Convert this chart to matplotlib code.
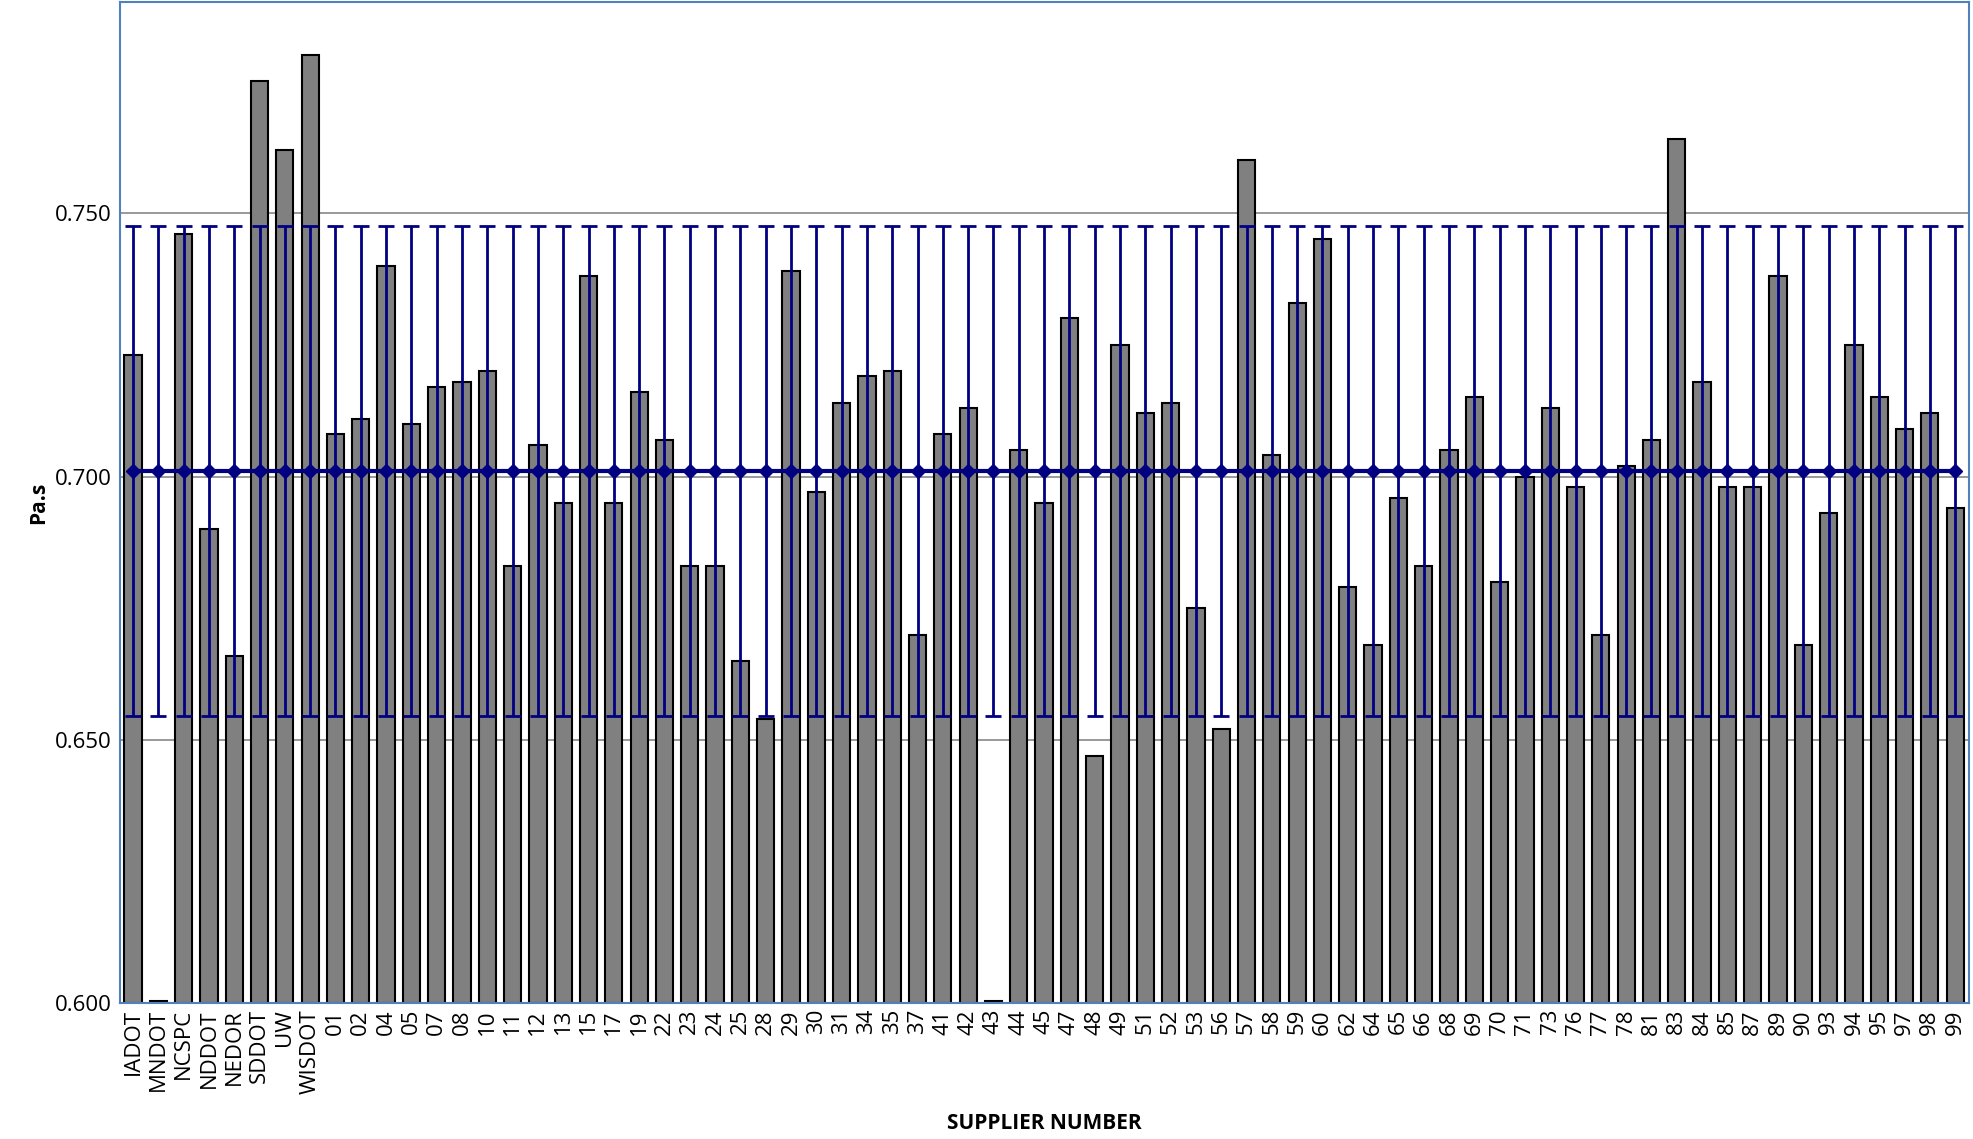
import matplotlib
matplotlib.use("Agg")
import matplotlib.pyplot as plt
import numpy as np

categories = ["IADOT","MNDOT","NCSPC","NDDOT","NEDOR","SDDOT","UW","WISDOT",
 "01","02","04","05","07","08","10","11","12","13","15","17","19","22","23","24","25","28","29","30",
 "31","34","35","37","41","42","43","44","45","47","48","49","51","52","53","56","57","58","59","60",
 "62","64","65","66","68","69","70","71","73","76","77","78","81","83","84","85","87","89","90","93",
 "94","95","97","98","99"]
values = [0.723,0.6005,0.746,0.690,0.666,0.775,0.762,0.780,
 0.708,0.711,0.740,0.710,0.717,0.718,0.720,0.683,0.706,0.695,0.738,0.695,0.716,0.707,0.683,0.683,0.665,0.654,0.739,0.697,
 0.714,0.719,0.720,0.670,0.708,0.713,0.6005,0.705,0.695,0.730,0.647,0.725,0.712,0.714,0.675,0.652,0.760,0.704,0.733,0.745,
 0.679,0.668,0.696,0.683,0.705,0.715,0.680,0.700,0.713,0.698,0.670,0.702,0.707,0.764,0.718,0.698,0.698,0.738,0.668,0.693,
 0.725,0.715,0.709,0.712,0.694]
grand_mean = 0.701
limit_half = 0.0465

plt.rcParams['font.family'] = ['Open Sans', 'DejaVu Sans']
fig = plt.figure(figsize=(19.73, 11.39), dpi=100)
ax = fig.add_axes([0.061, 0.119, 0.937, 0.879])
x = np.arange(len(categories))
ax.set_facecolor('white')
for y in [0.65, 0.70, 0.75]:
    ax.axhline(y, color='#888888', lw=1.2, zorder=0)
ax.bar(x, np.array(values) - 0.6, bottom=0.6, width=0.68, color='#808080',
       edgecolor='black', linewidth=1.5, zorder=2)
ax.errorbar(x, [grand_mean]*len(x), yerr=limit_half, fmt='none', ecolor='#000080',
            elinewidth=2, capsize=6, capthick=2, zorder=3)
ax.plot(x, [grand_mean]*len(x), color='#000080', lw=3, marker='D', markersize=7, zorder=4)
ax.set_xlim(-0.5, len(x) - 0.45)
ax.set_ylim(0.6, 0.790)
ax.set_yticks([0.6, 0.65, 0.7, 0.75])
ax.set_yticklabels(['0.600', '0.650', '0.700', '0.750'], fontsize=16)
ax.set_xticks(x)
ax.set_xticklabels(categories, rotation=90, fontsize=16)
ax.tick_params(axis='x', length=0, pad=4)
ax.tick_params(axis='y', length=0, pad=6)
for s in ax.spines.values():
    s.set_color('#4f81bd')
    s.set_linewidth(1.5)
ax.set_ylabel('Pa.s', fontsize=15, fontweight='bold')
ax.set_xlabel('SUPPLIER NUMBER', fontsize=15, fontweight='bold', labelpad=14)
fig.savefig('out.png', dpi=100)
